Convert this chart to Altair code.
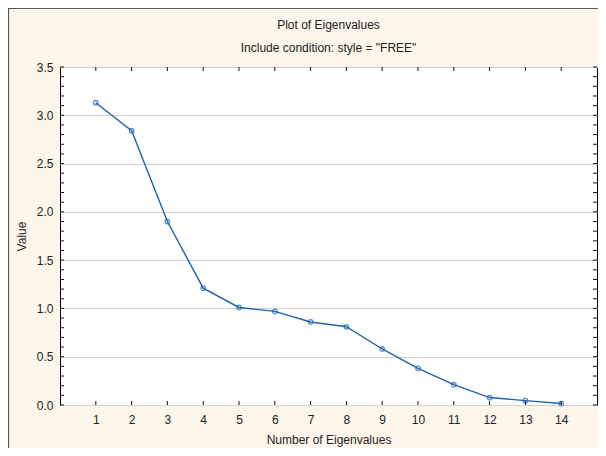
import altair as alt
import pandas as pd

# ---- data ----
eig_number = [1, 2, 3, 4, 5, 6, 7, 8, 9, 10, 11, 12, 13, 14]
eig_value = [3.13, 2.84, 1.90, 1.21, 1.01, 0.97, 0.86, 0.81, 0.58, 0.38, 0.21, 0.077, 0.045, 0.015]
y_major = [0.0, 0.5, 1.0, 1.5, 2.0, 2.5, 3.0, 3.5]
y_minor = [i / 10 for i in range(36)]
x_ticks = eig_number
title_text = "Plot of Eigenvalues"
subtitle_text = 'Include condition: style = "FREE"'
x_title = "Number of Eigenvalues"
y_title = "Value"

df = pd.DataFrame({"n": eig_number, "value": eig_value})
xdf = pd.DataFrame({"n": x_ticks})
ydf = pd.DataFrame({"v": y_minor})

W, H = 537, 338
PL, PT, PR, PB = 52, 59, 1, 43
FONT = "Liberation Sans"
BLUE = "#1f62b0"
TXT = "#222222"
FS = 12

xscale = alt.Scale(domain=[0, 15], nice=False, zero=False)
yscale = alt.Scale(domain=[0, 3.5], nice=False)

base = alt.Chart(df)

line = base.mark_line(color=BLUE, strokeWidth=1.4).encode(
    x=alt.X("n:Q", scale=xscale,
            axis=alt.Axis(title=x_title, values=x_ticks, format="d",
                          ticks=False, domain=False, grid=False, labelPadding=9,
                          titlePadding=9)),
    y=alt.Y("value:Q", scale=yscale,
            axis=alt.Axis(title=y_title, values=y_major, format=".1f",
                          ticks=False, domain=False, grid=True, gridColor="#d2d2d2",
                          labelPadding=7, titlePadding=8)),
)
pts = base.mark_point(color=BLUE, shape="circle", filled=False, size=20, strokeWidth=1.3).encode(
    x=alt.X("n:Q", scale=xscale), y=alt.Y("value:Q", scale=yscale)
)

tick_col = "#111111"
bottom_ticks = alt.Chart(xdf).mark_rule(color=tick_col).encode(
    x=alt.X("n:Q", scale=xscale), y=alt.value(H - 4), y2=alt.value(H))
top_ticks = alt.Chart(xdf).mark_rule(color=tick_col).encode(
    x=alt.X("n:Q", scale=xscale), y=alt.value(0), y2=alt.value(4))
left_ticks = alt.Chart(ydf).mark_rule(color=tick_col).encode(
    y=alt.Y("v:Q", scale=yscale), x=alt.value(0), x2=alt.value(4))
right_ticks = alt.Chart(ydf).mark_rule(color=tick_col).encode(
    y=alt.Y("v:Q", scale=yscale), x=alt.value(W - 4), x2=alt.value(W))

one = alt.Data(values=[{"a": 1}])
frame_top = alt.Chart(one).mark_rule(color="#555555", strokeWidth=1.2).encode(
    x=alt.value(-PL), x2=alt.value(W + PR), y=alt.value(-PT + 0.5))
frame_left = alt.Chart(one).mark_rule(color="#555555", strokeWidth=1.2).encode(
    x=alt.value(-PL + 0.5), y=alt.value(-PT), y2=alt.value(H + PB))

title_mark = alt.Chart(one).mark_text(
    text=title_text, font=FONT, fontSize=FS, color=TXT, align="center", baseline="middle"
).encode(x=alt.value(W / 2), y=alt.value(-42))
subtitle_mark = alt.Chart(one).mark_text(
    text=subtitle_text, font=FONT, fontSize=FS, color=TXT, align="center", baseline="middle"
).encode(x=alt.value(W / 2), y=alt.value(-19))

chart = alt.layer(
    frame_top, frame_left, line, pts, bottom_ticks, top_ticks, left_ticks, right_ticks,
    title_mark, subtitle_mark
).properties(
    width=W, height=H,
    padding={"left": PL, "top": PT, "right": PR, "bottom": PB},
    autosize=alt.AutoSizeParams(type="none"),
    background="#fdf6ea",
).configure_view(
    fill="white", stroke="black", strokeWidth=1
).configure_axis(
    labelFont=FONT, titleFont=FONT, labelFontSize=FS, titleFontSize=FS,
    labelColor=TXT, titleColor=TXT, titleFontWeight="normal"
)

chart.save("out.html", embed_options={"renderer": "svg", "actions": False})
